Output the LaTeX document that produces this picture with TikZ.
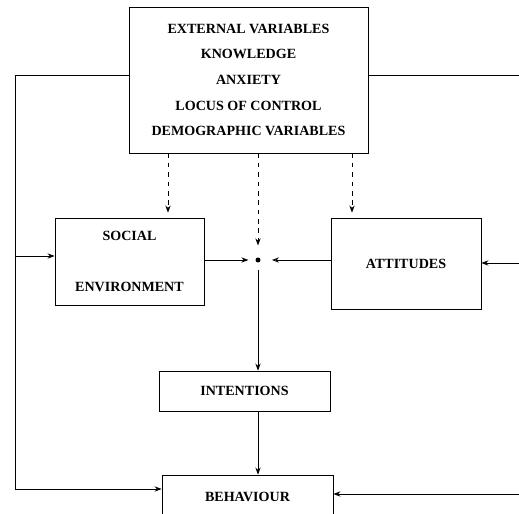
\documentclass[tikz,border=0pt]{standalone}
\usepackage{fontspec}
\setmainfont{Liberation Serif}
\usetikzlibrary{arrows.meta,positioning}

\begin{document}
\begin{tikzpicture}[x=0.03cm,y=-0.03cm,line width=0.7pt,
>={Stealth[length=6pt,width=4.5pt]},
box/.style={draw,align=center,inner sep=0pt,font=\bfseries\fontsize{12}{21.9}\selectfont},
hint/.style={->,dash pattern=on 4pt off 4pt,shorten >=0.15cm}]
\useasboundingbox (0,0) rectangle (519,514);
\node (ext) at (248.5,80) [box,minimum width=7.17cm,minimum height=4.38cm]
{EXTERNAL VARIABLES\\KNOWLEDGE\\ANXIETY\\LOCUS OF CONTROL\\DEMOGRAPHIC VARIABLES};
\node (social) at (129.5,261.5) [box,minimum width=4.47cm,minimum height=2.61cm]
{SOCIAL\\[22pt]ENVIRONMENT};
\node (att) at (406,263.5) [box,minimum width=4.5cm,minimum height=2.73cm] {ATTITUDES};
\node (dot) at (258,260) [circle,fill,inner sep=0pt,minimum size=0.15cm] {};
\node (int) at (244.5,391) [box,minimum width=5.13cm,minimum height=1.2cm] {INTENTIONS};
\node (beh) at (247.5,497) [box,minimum width=5.13cm,minimum height=1.32cm] {BEHAVIOUR};
\coordinate (lt) at (15,75);
\coordinate (ls) at (15,256);
\coordinate (lb) at (15,489);
\coordinate (rt) at (519,75);
\coordinate (ra) at (519,263);
\coordinate (rb) at (519,494);
\coordinate (xa) at (168,0);
\coordinate (xb) at (352,0);
\draw (ext.west |- lt) -- (lt) -- (lb);
\draw [->] (lb) -- (beh.west |- lb);
\draw [->] (ls) -- (social.west |- ls);
\draw (ext.east |- rt) -- (rt);
\draw [->] (ra) -- (att.east |- ra);
\draw [->] (rb) -- (beh.east |- rb);
\draw [hint] (ext.south -| xa) -- (social.north -| xa);
\draw [hint] (ext.south -| xb) -- (att.north -| xb);
\draw [hint,shorten >=0.35cm] (ext.south -| dot) -- (dot);
\draw [->,shorten >=0.2cm] (social.east |- dot) -- (dot);
\draw [-{Stealth[open,length=6pt,width=4.5pt]},shorten >=0.33cm] (att.west |- dot) -- (dot);
\draw [->,shorten <=0.2cm] (dot) -- (dot |- int.north);
\draw [->] (int.south -| dot) -- (beh.north -| dot);
\end{tikzpicture}
\end{document}
